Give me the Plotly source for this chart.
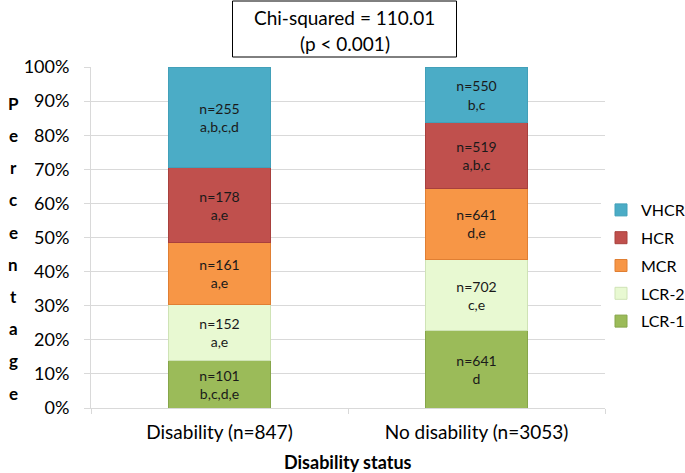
import plotly.graph_objects as go

categories = ["Disability (n=847)", "No disability (n=3053)"]
series_names = ["LCR-1", "LCR-2", "MCR", "HCR", "VHCR"]
# percentages (share of each group)
pct_lcr1 = [14.0, 22.6]
pct_lcr2 = [16.4, 21.0]
pct_mcr = [18.1, 20.8]
pct_hcr = [22.0, 19.2]
pct_vhcr = [29.5, 16.4]
# counts and significance letters shown in the segments
n_lcr1 = [101, 641]
n_lcr2 = [152, 702]
n_mcr = [161, 641]
n_hcr = [178, 519]
n_vhcr = [255, 550]
sig_lcr1 = ["b,c,d,e", "d"]
sig_lcr2 = ["a,e", "c,e"]
sig_mcr = ["a,e", "d,e"]
sig_hcr = ["a,e", "a,b,c"]
sig_vhcr = ["a,b,c,d", "b,c"]
y_ticks = [0, 10, 20, 30, 40, 50, 60, 70, 80, 90, 100]
y_title = "Percentage"
x_title = "Disability status"
box_lines = ["Chi-squared = 110.01", "(p < 0.001)"]

FONT = "Lato"
series = [
    ("LCR-1", pct_lcr1, n_lcr1, sig_lcr1, "#9BBB59", "#86A64A"),
    ("LCR-2", pct_lcr2, n_lcr2, sig_lcr2, "#E8F9D2", "#CFE3B6"),
    ("MCR", pct_mcr, n_mcr, sig_mcr, "#F79646", "#E07F33"),
    ("HCR", pct_hcr, n_hcr, sig_hcr, "#C0504D", "#A8403D"),
    ("VHCR", pct_vhcr, n_vhcr, sig_vhcr, "#4BACC6", "#42A0B9"),
]

fig = go.Figure()
for k, (name, pct, ns, sig, col, lcol) in enumerate(series):
    fig.add_trace(go.Bar(
        name=name, x=categories, y=[p / 100 for p in pct],
        text=[f"n={n}<br>{s}" for n, s in zip(ns, sig)],
        textposition="inside", insidetextanchor="middle", textangle=0,
        constraintext="none",
        textfont=dict(family=FONT, size=14, color="#1a1a1a"),
        marker=dict(color=col, line=dict(color=lcol, width=1)),
        legendgroup=name, legendrank=1000 - k, hoverinfo="skip",
    ))

L, R, T, B = 91, 80, 67, 65
W, H = 685, 473
pw, ph = W - L - R, H - T - B

def px_x(x):
    return (x - L) / pw

def px_y(y):
    return (H - B - y) / ph

fig.update_layout(
    width=W, height=H, margin=dict(l=L, r=R, t=T, b=B, autoexpand=False),
    barmode="stack", bargap=0.6,
    paper_bgcolor="white", plot_bgcolor="white",
    font=dict(family=FONT, color="#000000"),
    showlegend=True,
    legend=dict(x=px_x(601), xanchor="left", y=px_y(265.5), yanchor="middle",
                traceorder="grouped", tracegroupgap=4,
                font=dict(family=FONT, size=16, color="#000000"),
                itemwidth=30),
    xaxis=dict(showgrid=False, showline=True, linecolor="#D9D9D9", linewidth=1,
               ticks="outside", tickson="boundaries", ticklen=5, tickcolor="#D9D9D9",
               ticklabelstandoff=7,
               tickfont=dict(family=FONT, size=19, color="#000000")),
    yaxis=dict(range=[0, 1], tickvals=[v / 100 for v in y_ticks],
               ticktext=[f"{v}%" for v in y_ticks],
               showgrid=True, gridcolor="#D9D9D9", gridwidth=1,
               showline=True, linecolor="#D9D9D9", linewidth=1,
               ticks="outside", ticklen=6, tickcolor="#D9D9D9",
               ticklabelstandoff=11,
               tickfont=dict(family=FONT, size=18, color="#000000"),
               zeroline=False),
)

# title box
fig.add_shape(type="rect", xref="paper", yref="paper",
              x0=px_x(232.5), x1=px_x(456.5), y0=px_y(57), y1=px_y(1),
              line=dict(color="#000000", width=1), fillcolor="white")
for i, line in enumerate(box_lines):
    fig.add_annotation(text=line, xref="paper", yref="paper",
                       x=px_x(344.5), y=px_y(18 + 25 * i), xanchor="center", yanchor="middle",
                       showarrow=False, font=dict(family=FONT, size=19, color="#000000"))

# vertical y-axis title, one letter per line
for i, ch in enumerate(y_title):
    fig.add_annotation(text=f"<b>{ch}</b>", xref="paper", yref="paper",
                       x=px_x(13), y=px_y(103.3 + 32.2 * i), xanchor="center", yanchor="middle",
                       showarrow=False, font=dict(family=FONT, size=17, color="#000000"))

fig.add_annotation(text=f"<b>{x_title}</b>", xref="paper", yref="paper",
                   x=px_x(348), y=px_y(462), xanchor="center", yanchor="middle",
                   showarrow=False, font=dict(family=FONT, size=18, color="#000000"))

fig.write_html("out.html", config={"displayModeBar": False},
               post_script="document.body.style.margin='0px';")
